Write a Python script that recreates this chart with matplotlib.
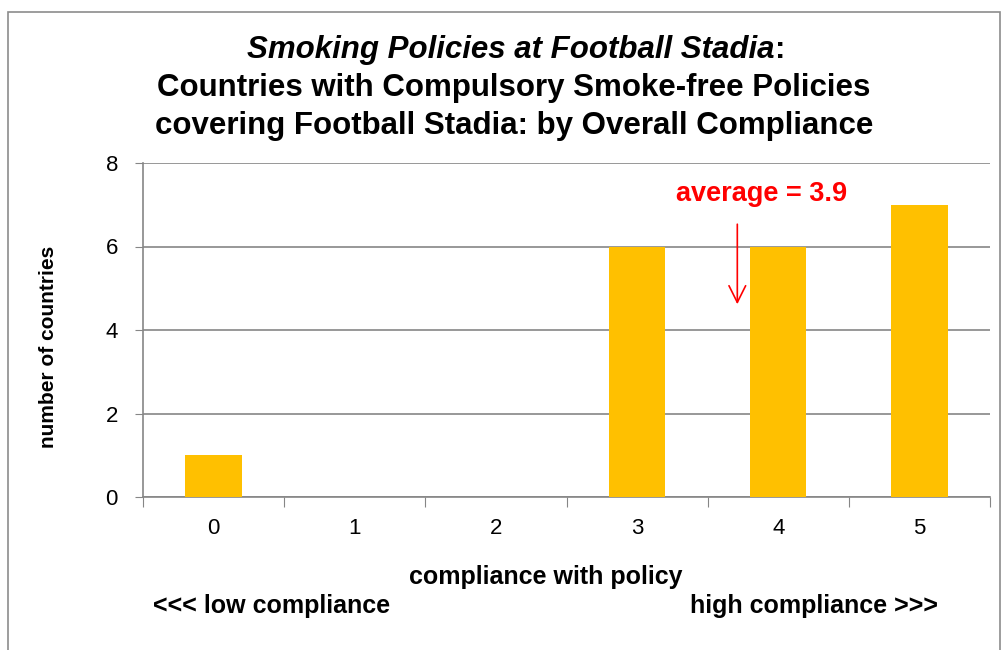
import matplotlib.pyplot as plt
from matplotlib import patches

compliance = [0, 1, 2, 3, 4, 5]
countries = [1, 0, 0, 6, 6, 7]
y_ticks = [0, 2, 4, 6, 8]
average = 3.9

plt.rcParams['font.family'] = ['Liberation Sans', 'DejaVu Sans']

fig = plt.figure(figsize=(10.08, 6.5), dpi=100)
ax = fig.add_axes([143 / 1008, 1 - 497 / 650, 847 / 1008, 334 / 650])

# figure border
fig.patches.append(patches.Rectangle((8 / 1008, -0.05), 992 / 1008, 1 - 12 / 650 + 0.05,
                                     transform=fig.transFigure, fill=False,
                                     edgecolor='#8c8c8c', linewidth=1.2))

ax.bar(compliance, countries, width=0.4, color='#FFC000', zorder=3)

ax.set_xlim(-0.5, 5.5)
ax.set_ylim(0, 8)
ax.set_yticks(y_ticks)
ax.set_yticklabels([str(v) for v in y_ticks], fontsize=16)
ax.yaxis.grid(True, color='#868686', linewidth=1.2, zorder=0)

ax.set_xticks([x + 0.5 for x in compliance[:-1]] + [-0.5, 5.5])
ax.set_xticklabels([])
ax.set_xticks(compliance, minor=True)
ax.set_xticklabels([str(c) for c in compliance], minor=True, fontsize=16)
ax.tick_params(axis='x', which='major', length=7, color='#868686', direction='out')
ax.tick_params(axis='x', which='minor', length=0, pad=15)
ax.tick_params(axis='y', length=6, color='#868686', pad=12)

for s in ['top', 'right']:
    ax.spines[s].set_visible(False)
for s in ['left', 'bottom']:
    ax.spines[s].set_color('#868686')
    ax.spines[s].set_linewidth(1.2)

ax.set_ylabel('number of countries', fontsize=15, fontweight='bold')
ax.yaxis.set_label_coords(-0.1, 0.45)

# average annotation
ax.annotate('', xy=(3.71, 4.55), xytext=(3.71, 6.6),
            arrowprops=dict(arrowstyle='->', color='red', lw=1.2, mutation_scale=30))
ax.text(3.88, 7.25, f'average = {average}', color='red', fontsize=19.5,
        fontweight='bold', ha='center', va='center')

# title
title_size = 22.5
colon_w = 7
cx = 514
t1 = fig.text((cx - colon_w / 2) / 1008, 1 - 50 / 650, 'Smoking Policies at Football Stadia',
              ha='center', va='center', fontsize=title_size, fontweight='bold', fontstyle='italic')
fig.canvas.draw()
bb = t1.get_window_extent()
fig.text((bb.x1 + 1) / 1008, 1 - 50 / 650, ':', ha='left', va='center',
         fontsize=title_size, fontweight='bold')
fig.text(cx / 1008, 1 - 88 / 650, 'Countries with Compulsory Smoke-free Policies',
         ha='center', va='center', fontsize=title_size, fontweight='bold')
fig.text(cx / 1008, 1 - 126 / 650, 'covering Football Stadia: by Overall Compliance',
         ha='center', va='center', fontsize=title_size, fontweight='bold')

fig.text(546 / 1008, 1 - 577 / 650, 'compliance with policy', ha='center', va='center',
         fontsize=18, fontweight='bold')
fig.text(153 / 1008, 1 - 606 / 650, '<<< low compliance', ha='left', va='center',
         fontsize=18, fontweight='bold')
fig.text(938 / 1008, 1 - 606 / 650, 'high compliance >>>', ha='right', va='center',
         fontsize=18, fontweight='bold')

fig.savefig('out.png', dpi=100)
